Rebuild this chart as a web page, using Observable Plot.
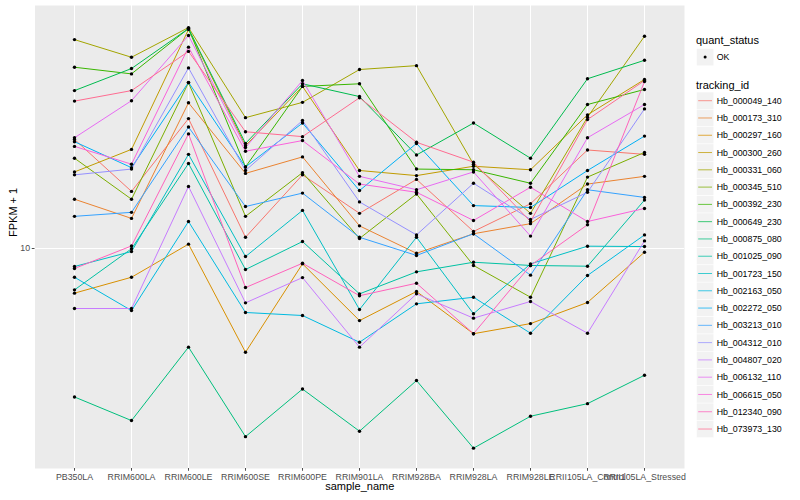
<!DOCTYPE html>
<html>
<head>
<meta charset="utf-8">
<script src="https://cdn.jsdelivr.net/npm/d3@7"></script>
<script src="https://cdn.jsdelivr.net/npm/@observablehq/plot@0.6"></script>
<style>
html,body{margin:0;padding:0;background:#fff;}
#chart{position:relative;width:800px;height:500px;}
svg text{font-family:"Liberation Sans",Arial,Helvetica,sans-serif;}
</style>
</head>
<body>
<div id="chart"></div>
<script>
// ---- data (FPKM + 1) ----
const samples = ["PB350LA","RRIM600LA","RRIM600LE","RRIM600SE","RRIM600PE","RRIM901LA","RRIM928BA","RRIM928LA","RRIM928LE","RRII105LA_Control","RRII105LA_Stressed"];
const trackingIds = ["Hb_000049_140","Hb_000173_310","Hb_000297_160","Hb_000300_260","Hb_000331_060","Hb_000345_510","Hb_000392_230","Hb_000649_230","Hb_000875_080","Hb_001025_090","Hb_001723_150","Hb_002163_050","Hb_002272_050","Hb_003213_010","Hb_004312_010","Hb_004807_020","Hb_006132_110","Hb_006615_050","Hb_012340_090","Hb_073973_130"];
const quantStatus = ["OK"];
const yTicks = [10];

const hb_000049_140 = [23.1, 15.5, 27.1, 10.9, 17.6, 13.1, 17.0, 11.4, 14.1, 21.3, 20.6];
const hb_000173_310 = [14.6, 12.6, 30.6, 17.8, 20.2, 11.9, 9.64, 11.2, 12.1, 16.4, 17.4];
const hb_000297_160 = [7.10, 8.02, 10.34, 4.51, 8.89, 5.75, 7.19, 5.20, 5.62, 6.61, 9.72];
const hb_000300_260 = [18.0, 21.4, 53.7, 22.0, 34.7, 18.2, 17.5, 18.8, 18.3, 27.9, 36.6];
const hb_000331_060 = [49.7, 43.4, 54.5, 27.3, 30.7, 39.5, 40.7, 19.1, 13.1, 27.4, 51.0];
const hb_000345_510 = [20.0, 14.6, 35.7, 12.8, 17.9, 10.8, 15.2, 8.78, 6.88, 17.3, 20.9];
const hb_000392_230 = [40.2, 38.2, 54.1, 18.7, 34.7, 35.4, 18.4, 18.3, 16.5, 30.2, 33.9];
const hb_000649_230 = [33.6, 39.8, 54.1, 22.4, 35.4, 32.1, 20.5, 26.2, 20.0, 36.8, 42.4];
const hb_000875_080 = [3.20, 2.67, 4.69, 2.36, 3.40, 2.46, 3.63, 2.16, 2.76, 3.04, 3.78];
const hb_001025_090 = [7.28, 9.98, 19.2, 8.51, 10.55, 7.06, 8.36, 9.00, 8.78, 8.73, 14.5];
const hb_001723_150 = [8.71, 9.77, 20.6, 9.40, 13.4, 6.26, 10.9, 6.06, 8.89, 10.18, 10.15];
const hb_002163_050 = [8.02, 6.21, 12.3, 6.12, 5.98, 4.87, 6.54, 6.88, 5.22, 8.13, 11.1];
const hb_002272_050 = [22.7, 18.6, 35.8, 18.7, 26.2, 15.6, 22.4, 13.9, 13.7, 18.2, 23.7];
const hb_003213_010 = [12.8, 13.2, 25.4, 13.8, 15.3, 10.9, 9.48, 11.2, 8.15, 15.7, 14.8];
const hb_004312_010 = [17.6, 18.4, 40.0, 18.2, 26.7, 14.3, 11.1, 16.5, 12.5, 15.4, 29.2];
const hb_004807_020 = [6.31, 6.31, 16.1, 6.59, 8.00, 4.69, 7.06, 5.86, 6.66, 5.22, 10.6];
const hb_006132_110 = [23.4, 31.1, 51.3, 21.7, 36.3, 17.4, 15.7, 18.0, 11.0, 23.4, 30.2];
const hb_006615_050 = [21.9, 19.1, 46.9, 21.1, 22.9, 16.4, 15.4, 12.4, 16.0, 12.3, 13.6];
const hb_012340_090 = [8.58, 10.2, 24.1, 7.41, 8.93, 6.96, 7.66, 5.20, 8.78, 12.0, 36.0];
const hb_073973_130 = [31.0, 33.6, 45.4, 24.5, 23.6, 31.8, 22.6, 19.4, 12.3, 26.9, 36.3];

const seriesValues = [hb_000049_140, hb_000173_310, hb_000297_160, hb_000300_260, hb_000331_060,
  hb_000345_510, hb_000392_230, hb_000649_230, hb_000875_080, hb_001025_090, hb_001723_150,
  hb_002163_050, hb_002272_050, hb_003213_010, hb_004312_010, hb_004807_020, hb_006132_110,
  hb_006615_050, hb_012340_090, hb_073973_130];

const palette = ["#F8766D","#EA8331","#D89000","#C09B00","#A3A500","#7CAE00","#39B600","#00BB4E","#00BF7D","#00C1A3","#00BFC4","#00BAE0","#00B0F6","#35A2FF","#9590FF","#C77CFF","#E76BF3","#FA62DB","#FF62BC","#FF6C91"];

// ---- table for the library ----
const rows = [];
trackingIds.forEach((id, i) => samples.forEach((s, j) => rows.push({id, sample: s, value: seriesValues[i][j], status: quantStatus[0]})));

const FONT = "Liberation Sans, Arial, Helvetica, sans-serif";

const plot = Plot.plot({
  width: 800,
  height: 500,
  marginTop: 5,
  marginBottom: 32,
  marginLeft: 34.5,
  marginRight: 116,
  style: {background: "#fff", fontFamily: FONT, overflow: "visible"},
  x: {type: "point", domain: samples, padding: 0.6, label: null},
  y: {type: "log", domain: [1.848, 64.57], label: null},
  color: {domain: trackingIds, range: palette},
  marks: [
    Plot.frame({fill: "#EBEBEB", stroke: null}),
    Plot.gridX({stroke: "#ffffff", strokeOpacity: 1, strokeWidth: 1.07}),
    Plot.gridY(yTicks, {stroke: "#ffffff", strokeOpacity: 1, strokeWidth: 1.07}),
    Plot.axisX({tickSize: 2.75, tickPadding: 2.2, fontSize: 8.8, color: "#4D4D4D", label: null}),
    Plot.axisY(yTicks, {tickSize: 2.75, tickPadding: 2.2, fontSize: 8.8, color: "#4D4D4D", label: null, tickFormat: d => String(d)}),
    Plot.line(rows, {x: "sample", y: "value", z: "id", stroke: "id", strokeWidth: 1}),
    Plot.dot(rows, {x: "sample", y: "value", r: 1.7, fill: "black", stroke: null}),
    Plot.text(["sample_name"], {text: d => d, frameAnchor: "bottom", dy: 21, fontSize: 11, fill: "black"}),
    Plot.text(["FPKM + 1"], {text: d => d, frameAnchor: "left", dx: -21.5, rotate: -90, fontSize: 11, fill: "black"})
  ]
});

document.getElementById("chart").appendChild(plot);

// ---- legend (right side) ----
const svg = d3.select(plot);
const lg = svg.append("g").attr("font-family", FONT).attr("text-anchor", "start");
lg.append("text").attr("x", 696).attr("y", 44).attr("font-size", 11).attr("fill", "black").text("quant_status");
lg.append("rect").attr("x", 696.5).attr("y", 48.5).attr("width", 17.3).attr("height", 17.3)
  .attr("fill", "#F2F2F2").attr("stroke", "#fff").attr("stroke-width", 0.5);
lg.append("circle").attr("cx", 705.1).attr("cy", 57.1).attr("r", 1.5).attr("fill", "black");
lg.append("text").attr("x", 716.7).attr("y", 57.1).attr("dy", "0.35em").attr("font-size", 8.8).attr("fill", "black").text(quantStatus[0]);

lg.append("text").attr("x", 696).attr("y", 88.5).attr("font-size", 11).attr("fill", "black").text("tracking_id");
trackingIds.forEach((id, i) => {
  const cy = 100.7 + i * 17.28;
  lg.append("rect").attr("x", 696.5).attr("y", cy - 8.64).attr("width", 17.3).attr("height", 17.28)
    .attr("fill", "#F2F2F2").attr("stroke", "#fff").attr("stroke-width", 0.5);
  lg.append("line").attr("x1", 698.2).attr("x2", 712).attr("y1", cy).attr("y2", cy)
    .attr("stroke", palette[i]).attr("stroke-width", 1).attr("stroke-opacity", 0.75);
  lg.append("text").attr("x", 716.7).attr("y", cy).attr("dy", "0.35em").attr("font-size", 8.8).attr("fill", "black").text(id);
});
</script>
</body>
</html>
